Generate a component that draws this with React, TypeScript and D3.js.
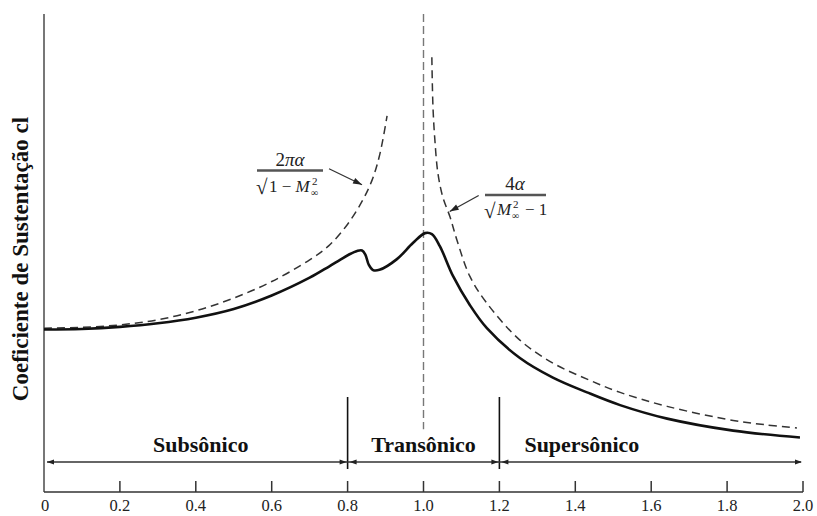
import React from "react";
import * as d3 from "d3";

const W = 817;
const H = 516;

// Mach axis ticks
const machTicks = [0, 0.2, 0.4, 0.6, 0.8, 1.0, 1.2, 1.4, 1.6, 1.8, 2.0];
const tickLabels = ["0", "0.2", "0.4", "0.6", "0.8", "1.0", "1.2", "1.4", "1.6", "1.8", "2.0"];

// Measured lift coefficient (in units of alpha) vs free-stream Mach number
const actualMach = [0, 0.1, 0.2, 0.3, 0.4, 0.5, 0.6, 0.7, 0.75, 0.78, 0.805, 0.825, 0.838, 0.847, 0.856, 0.867, 0.884, 0.93, 0.972, 1.004, 1.022, 1.043, 1.078, 1.122, 1.167, 1.254, 1.341, 1.431, 1.518, 1.642, 1.816, 1.992];
const actualCl = [6.22, 6.24, 6.32, 6.46, 6.68, 7.02, 7.55, 8.25, 8.68, 8.95, 9.17, 9.3, 9.32, 9.15, 8.75, 8.55, 8.56, 8.98, 9.61, 10.0, 9.96, 9.49, 8.31, 7.18, 6.27, 5.1, 4.33, 3.75, 3.25, 2.72, 2.25, 1.98];

// Prandtl-Glauert subsonic theory 2πα/√(1−M²)
const subsonicMach = [0, 0.1, 0.2, 0.3, 0.4, 0.5, 0.6, 0.7, 0.75, 0.8, 0.84, 0.865, 0.885, 0.904];
const subsonicCl = [6.27, 6.3, 6.4, 6.6, 6.95, 7.45, 8.1, 8.95, 9.5, 10.35, 11.3, 12.1, 13.1, 14.6];

// Ackeret supersonic theory 4α/√(M²−1)
const supersonicMach = [1.022, 1.025, 1.03, 1.038, 1.051, 1.07, 1.088, 1.122, 1.167, 1.254, 1.341, 1.431, 1.518, 1.642, 1.816, 1.9, 1.984];
const supersonicCl = [16.9, 14.94, 13.65, 12.35, 11.41, 10.63, 9.73, 8.31, 7.25, 5.8, 4.9, 4.27, 3.75, 3.2, 2.65, 2.48, 2.35];

// Sonic reference line at M = 1
const sonicMach = 1.0;
const sonicClRange = [2.3, 18.6];

// Flow regimes
const regimeBounds = [0, 0.8, 1.2, 2.0];
const regimeNames = ["Subsônico", "Transônico", "Supersônico"];

// Annotation arrow targets on the theory curves [Mach, cl]
const subsonicPointer = [0.838, 11.9];
const supersonicPointer = [1.069, 10.85];

const yTitle = "Coeficiente de Sustentação cl";

const SERIF = "'Liberation Serif', 'DejaVu Serif', Times, serif";

export default function App() {
  const x = d3.scaleLinear().domain([0, 2]).range([44, 803]);
  const y = d3.scaleLinear().domain([-0.16, 18.6]).range([492, 14]);
  const axisY = y.range()[0];
  const axisTop = y.range()[1];

  const line = d3
    .line<[number, number]>()
    .x((d) => x(d[0]))
    .y((d) => y(d[1]))
    .curve(d3.curveCatmullRom.alpha(0.5));

  const actualPts = actualMach.map((m, i) => [m, actualCl[i]] as [number, number]);
  const subPts = subsonicMach.map((m, i) => [m, subsonicCl[i]] as [number, number]);
  const supPts = supersonicMach.map((m, i) => [m, supersonicCl[i]] as [number, number]);

  const arrowRowY = axisY - 30;
  const sepTop = axisY - 95;
  const sepBottom = axisY - 23;

  const head = (tipX: number, tipY: number, dir: number, len = 7, hw = 2.5) =>
    `M${tipX},${tipY} L${tipX - dir * len},${tipY - hw} L${tipX - dir * len},${tipY + hw} Z`;

  const arrowHeads: string[] = [];
  arrowHeads.push(head(x(regimeBounds[0]) + 3, arrowRowY, -1));
  for (let i = 1; i < regimeBounds.length - 1; i++) {
    const bx = x(regimeBounds[i]);
    arrowHeads.push(head(bx - 1, arrowRowY, 1));
    arrowHeads.push(head(bx + 2, arrowRowY, -1));
  }
  arrowHeads.push(head(x(regimeBounds[regimeBounds.length - 1]) - 1, arrowRowY, 1));

  const regimeLabelX = [
    { x: (x(regimeBounds[0]) + x(regimeBounds[1])) / 2 + 5, anchor: "middle" },
    { x: (x(regimeBounds[1]) + x(regimeBounds[2])) / 2, anchor: "middle" },
    { x: x(regimeBounds[2]) + 25, anchor: "start" },
  ];

  // pointer arrows
  const p1 = [x(subsonicPointer[0]), y(subsonicPointer[1])];
  const p1s = [p1[0] - 33, p1[1] - 16];
  const p2 = [x(supersonicPointer[0]), y(supersonicPointer[1])];
  const p2s = [p2[0] + 29, p2[1] - 16];
  const pointerHead = (from: number[], to: number[]) => {
    const ang = Math.atan2(to[1] - from[1], to[0] - from[0]);
    const len = 9;
    const hw = 3;
    const bx = to[0] - len * Math.cos(ang);
    const by = to[1] - len * Math.sin(ang);
    const nx = -Math.sin(ang) * hw;
    const ny = Math.cos(ang) * hw;
    return `M${to[0]},${to[1]} L${bx + nx},${by + ny} L${bx - nx},${by - ny} Z`;
  };

  return (
    <svg
      width={W}
      height={H}
      style={{ position: "absolute", left: 0, top: 0, background: "#fff" }}
      fontFamily={SERIF}
    >
      <rect width={W} height={H} fill="#fff" />

      {/* axes */}
      <line x1={x(0)} x2={x(0)} y1={axisTop} y2={axisY} stroke="#555" strokeWidth={1.6} />
      <line x1={x(0)} x2={x(2)} y1={axisY} y2={axisY} stroke="#333" strokeWidth={1.6} />
      {machTicks.map((t, i) => (
        <g key={t}>
          {i > 0 && (
            <line x1={x(t)} x2={x(t)} y1={axisY} y2={axisY - 11} stroke="#333" strokeWidth={1.5} />
          )}
          <text x={x(t) + (i === 0 ? 1 : 0)} y={axisY + 19} textAnchor="middle" fontSize={16.5} fill="#222">
            {tickLabels[i]}
          </text>
        </g>
      ))}

      {/* y title */}
      <text
        transform={`translate(28, 259) rotate(-90)`}
        textAnchor="middle"
        fontSize={23}
        fontWeight="bold"
        fill="#111"
      >
        {yTitle}
      </text>

      {/* sonic line */}
      <line
        x1={x(sonicMach)}
        x2={x(sonicMach)}
        y1={y(sonicClRange[1])}
        y2={y(sonicClRange[0])}
        stroke="#777"
        strokeWidth={1.4}
        strokeDasharray="8,4"
      />

      {/* theory curves */}
      <path d={line(subPts) || ""} fill="none" stroke="#333" strokeWidth={1.5} strokeDasharray="8,5" />
      <path d={line(supPts) || ""} fill="none" stroke="#333" strokeWidth={1.5} strokeDasharray="8,5" />

      {/* measured curve */}
      <path d={line(actualPts) || ""} fill="none" stroke="#111" strokeWidth={2.6} strokeLinejoin="round" />

      {/* regime separators and arrows */}
      {regimeBounds.slice(1, -1).map((b) => (
        <line key={b} x1={x(b)} x2={x(b)} y1={sepTop} y2={sepBottom} stroke="#111" strokeWidth={1.6} />
      ))}
      <line x1={x(0) + 3} x2={x(2) - 2} y1={arrowRowY} y2={arrowRowY} stroke="#333" strokeWidth={1.3} />
      {arrowHeads.map((d, i) => (
        <path key={i} d={d} fill="#222" />
      ))}
      {regimeNames.map((n, i) => (
        <text
          key={n}
          x={regimeLabelX[i].x}
          y={arrowRowY - 10}
          textAnchor={regimeLabelX[i].anchor as any}
          fontSize={22}
          fontWeight="bold"
          fill="#111"
        >
          {n}
        </text>
      ))}

      {/* subsonic theory label */}
      <line x1={p1s[0]} y1={p1s[1]} x2={p1[0]} y2={p1[1]} stroke="#333" strokeWidth={1.3} />
      <path d={pointerHead(p1s, p1)} fill="#222" />
      <g fill="#222" fontSize={19}>
        <text x={290} y={166} textAnchor="middle">
          2<tspan fontStyle="italic">πα</tspan>
        </text>
        <line x1={257} x2={323} y1={170.5} y2={170.5} stroke="#555" strokeWidth={2.4} />
        <text x={256} y={194} fontSize={21}>√</text>
        <text x={269} y={192} fontSize={17}>
          1 − <tspan fontStyle="italic">M</tspan>
        </text>
        <text x={311} y={196} fontSize={10}>∞</text>
        <text x={312} y={185} fontSize={11}>2</text>
      </g>

      {/* supersonic theory label */}
      <line x1={p2s[0]} y1={p2s[1]} x2={p2[0]} y2={p2[1]} stroke="#333" strokeWidth={1.3} />
      <path d={pointerHead(p2s, p2)} fill="#222" />
      <g fill="#222" fontSize={19}>
        <text x={515} y={190} textAnchor="middle">
          4<tspan fontStyle="italic">α</tspan>
        </text>
        <line x1={485} x2={546} y1={195} y2={195} stroke="#555" strokeWidth={2.4} />
        <text x={484} y={218} fontSize={21}>√</text>
        <text x={497} y={215} fontSize={17} fontStyle="italic">M</text>
        <text x={512} y={219} fontSize={10}>∞</text>
        <text x={513} y={208} fontSize={11}>2</text>
        <text x={525} y={215} fontSize={17}>− 1</text>
      </g>
    </svg>
  );
}
